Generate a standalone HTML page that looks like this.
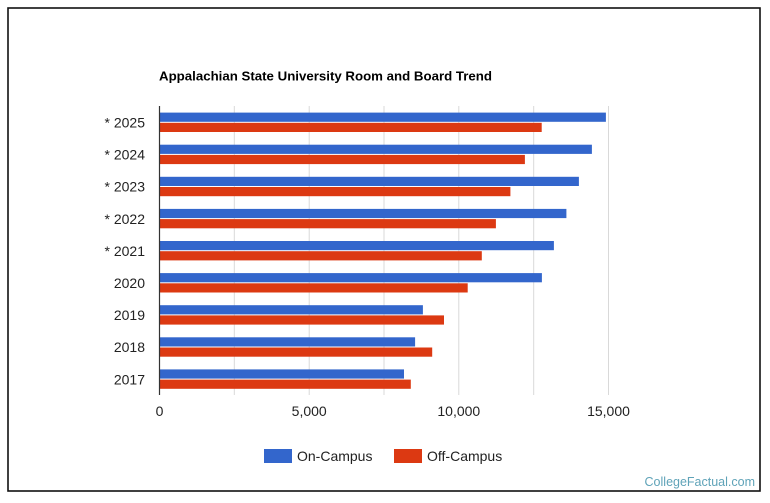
<!DOCTYPE html>
<html><head><meta charset="utf-8"><style>
html,body{margin:0;padding:0;background:#fff;}
svg{display:block;font-family:"Liberation Sans",Arial,sans-serif;}
</style></head><body>
<svg width="770" height="503" viewBox="0 0 770 503" xmlns="http://www.w3.org/2000/svg">
<rect x="0" y="0" width="770" height="503" fill="#fff"/>
<rect x="8" y="8" width="752" height="483" fill="none" stroke="#111" stroke-width="1.6"/>
<text x="159" y="80.5" font-size="13" font-weight="bold" fill="#000" textLength="333" lengthAdjust="spacingAndGlyphs">Appalachian State University Room and Board Trend</text>
<g stroke="#d9d9d9" stroke-width="1">
<line x1="234.3" y1="106" x2="234.3" y2="395"/>
<line x1="309.2" y1="106" x2="309.2" y2="395"/>
<line x1="384" y1="106" x2="384" y2="395"/>
<line x1="458.8" y1="106" x2="458.8" y2="395"/>
<line x1="533.7" y1="106" x2="533.7" y2="395"/>
<line x1="608.5" y1="106" x2="608.5" y2="395"/>
</g>
<g>
<rect x="159.5" y="112.6" width="446.4" height="9.2" fill="#3366cc"/>
<rect x="159.5" y="122.8" width="382.2" height="9.2" fill="#dc3912"/>
<rect x="159.5" y="144.7" width="432.4" height="9.2" fill="#3366cc"/>
<rect x="159.5" y="154.9" width="365.4" height="9.2" fill="#dc3912"/>
<rect x="159.5" y="176.8" width="419.4" height="9.2" fill="#3366cc"/>
<rect x="159.5" y="187" width="350.9" height="9.2" fill="#dc3912"/>
<rect x="159.5" y="208.9" width="406.9" height="9.2" fill="#3366cc"/>
<rect x="159.5" y="219.1" width="336.4" height="9.2" fill="#dc3912"/>
<rect x="159.5" y="241" width="394.4" height="9.2" fill="#3366cc"/>
<rect x="159.5" y="251.2" width="322.3" height="9.2" fill="#dc3912"/>
<rect x="159.5" y="273.1" width="382.4" height="9.2" fill="#3366cc"/>
<rect x="159.5" y="283.3" width="308.2" height="9.2" fill="#dc3912"/>
<rect x="159.5" y="305.2" width="263.4" height="9.2" fill="#3366cc"/>
<rect x="159.5" y="315.4" width="284.5" height="9.2" fill="#dc3912"/>
<rect x="159.5" y="337.3" width="255.6" height="9.2" fill="#3366cc"/>
<rect x="159.5" y="347.5" width="272.7" height="9.2" fill="#dc3912"/>
<rect x="159.5" y="369.4" width="244.5" height="9.2" fill="#3366cc"/>
<rect x="159.5" y="379.6" width="251.3" height="9.2" fill="#dc3912"/>
</g>
<line x1="159.5" y1="106" x2="159.5" y2="395" stroke="#333" stroke-width="1.2"/>
<g font-size="14" fill="#222" text-anchor="end">
<text x="145" y="127.5">* 2025</text>
<text x="145" y="159.6">* 2024</text>
<text x="145" y="191.7">* 2023</text>
<text x="145" y="223.8">* 2022</text>
<text x="145" y="255.9">* 2021</text>
<text x="145" y="288">2020</text>
<text x="145" y="320.1">2019</text>
<text x="145" y="352.2">2018</text>
<text x="145" y="384.3">2017</text>
</g>
<g font-size="14" fill="#222" text-anchor="middle">
<text x="159.5" y="416">0</text>
<text x="309.2" y="416">5,000</text>
<text x="458.8" y="416">10,000</text>
<text x="608.5" y="416">15,000</text>
</g>
<rect x="264" y="449" width="28" height="14" fill="#3366cc"/>
<text x="297" y="461" font-size="14" fill="#222">On-Campus</text>
<rect x="394" y="449" width="28" height="14" fill="#dc3912"/>
<text x="427" y="461" font-size="14" fill="#222">Off-Campus</text>
<text x="755" y="486" font-size="12.5" fill="#5fa3b8" text-anchor="end">CollegeFactual.com</text>
</svg>
</body></html>
